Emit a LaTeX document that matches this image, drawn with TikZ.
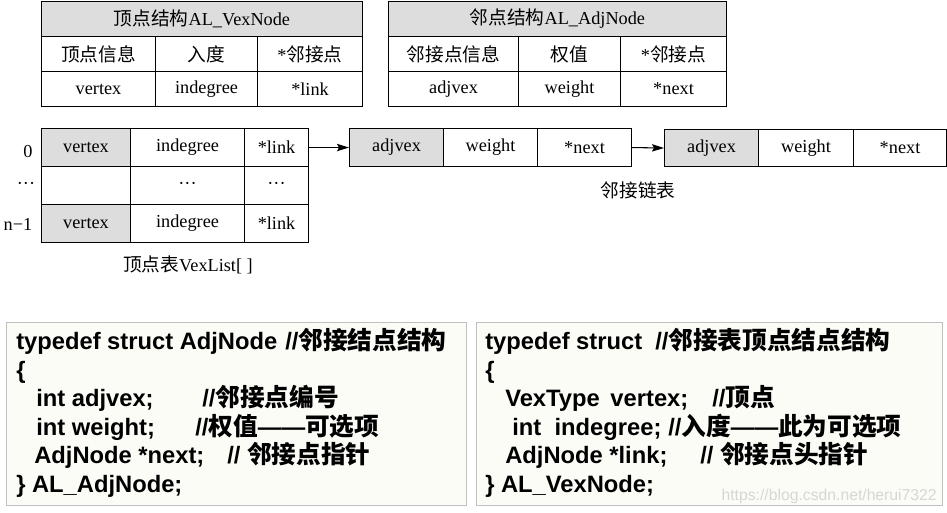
\documentclass[tikz,border=0pt]{standalone}
\usepackage{fontspec}
\usetikzlibrary{arrows.meta}
\setmainfont{Liberation Serif}
\newfontfamily\cjk{Noto Sans CJK SC}
\newfontfamily\codefont{Liberation Sans}
\definecolor{cellgray}{RGB}{221,221,221}
\definecolor{codebg}{RGB}{252,252,247}
\definecolor{codeframe}{RGB}{192,192,192}
\definecolor{wmgray}{RGB}{214,214,214}
\newcommand\tabfont{\fontsize{13.7pt}{16pt}\selectfont}
\newcommand\codefnt{\codefont\bfseries\fontsize{17.8pt}{21pt}\selectfont}
\newcommand\zh[1]{{\cjk\fontsize{14pt}{16pt}\selectfont #1}}
\newcommand\zhb[1]{{\cjk\bfseries\fontsize{18.5pt}{21pt}\selectfont #1}}
\begin{document}
\begin{tikzpicture}[x=0.75pt,y=-0.75pt,
  cell/.style={draw, line width=0.8pt, inner sep=0pt, anchor=north west, font=\tabfont},
  shade/.style={fill=cellgray},
  lbl/.style={inner sep=0pt, font=\tabfont},
  code/.style={inner sep=0pt, anchor=base west, font=\codefnt},
  arr/.style={-{Stealth[length=9pt,width=5.5pt,inset=1.5pt]}, line width=0.8pt},
  codebox/.style={draw=codeframe, fill=codebg, line width=0.9pt, inner sep=0pt, anchor=north west}]
\useasboundingbox (0,0) rectangle (947,512);

% ---- vertex node layout ----
\node[cell, shade, minimum width=240.75pt, minimum height=26.25pt] (vh) at (41,1) {\zh{顶点结构}AL\_VexNode};
\node[cell, minimum width=85.5pt, minimum height=26.25pt] (vh1) at (41,36) {\zh{顶点信息}};
\node[cell, minimum width=76.5pt, minimum height=26.25pt] (vh2) at (155,36) {\zh{入度}};
\node[cell, minimum width=78.75pt, minimum height=26.25pt] (vh3) at (257,36) {*\zh{邻接点}};
\node[cell, minimum width=85.5pt, minimum height=26.25pt] (vf1) at (41,71) {vertex};
\node[cell, minimum width=76.5pt, minimum height=26.25pt] (vf2) at (155,71) {indegree};
\node[cell, minimum width=78.75pt, minimum height=26.25pt] (vf3) at (257,71) {*link};

% ---- adjacency node layout ----
\node[cell, shade, minimum width=253.5pt, minimum height=26.25pt] (ah) at (388,1) {\zh{邻点结构}AL\_AdjNode};
\node[cell, minimum width=97.5pt, minimum height=26.25pt] (ah1) at (388,36) {\zh{邻接点信息}};
\node[cell, minimum width=76.5pt, minimum height=26.25pt] (ah2) at (518,36) {\zh{权值}};
\node[cell, minimum width=79.5pt, minimum height=26.25pt] (ah3) at (620,36) {*\zh{邻接点}};
\node[cell, minimum width=97.5pt, minimum height=26.25pt] (af1) at (388,71) {adjvex};
\node[cell, minimum width=76.5pt, minimum height=26.25pt] (af2) at (518,71) {weight};
\node[cell, minimum width=79.5pt, minimum height=26.25pt] (af3) at (620,71) {*next};

% ---- vertex list ----
\node[cell, shade, minimum width=66.75pt, minimum height=28.5pt] (v0a) at (41,128) {vertex};
\node[cell, minimum width=85.5pt, minimum height=28.5pt] (v0b) at (130,128) {indegree};
\node[cell, minimum width=48pt, minimum height=28.5pt] (v0c) at (244,128) {*link};
\node[cell, minimum width=66.75pt, minimum height=28.5pt] (v1a) at (41,166) {};
\node[cell, minimum width=85.5pt, minimum height=28.5pt] (v1b) at (130,166) {···};
\node[cell, minimum width=48pt, minimum height=28.5pt] (v1c) at (244,166) {···};
\node[cell, shade, minimum width=66.75pt, minimum height=28.5pt] (v2a) at (41,204) {vertex};
\node[cell, minimum width=85.5pt, minimum height=28.5pt] (v2b) at (130,204) {indegree};
\node[cell, minimum width=48pt, minimum height=28.5pt] (v2c) at (244,204) {*link};
\node[lbl] (i0) at (28,152) {0};
\node[lbl] (i1) at (26,186) {···};
\node[lbl] (i2) at (18,224) {n−1};
\node[lbl] (vcap) at (188,265) {\zh{顶点表}VexList[ ]};

% ---- adjacency chain ----
\node[cell, shade, minimum width=70.5pt, minimum height=28.5pt] (a1a) at (349,128) {adjvex};
\node[cell, minimum width=70.5pt, minimum height=28.5pt] (a1b) at (443,128) {weight};
\node[cell, minimum width=70.5pt, minimum height=28.5pt] (a1c) at (537,128) {*next};
\node[cell, shade, minimum width=70.5pt, minimum height=27.75pt] (a2a) at (664,129) {adjvex};
\node[cell, minimum width=71.25pt, minimum height=27.75pt] (a2b) at (758,129) {\raisebox{-2.5pt}{weight}};
\node[cell, minimum width=69.75pt, minimum height=27.75pt] (a2c) at (853,129) {*next};
\node[lbl] (acap) at (638,190) {\zh{邻接链表}};
\draw[arr] (v0c.east) -- (a1a.west);
\draw[arr] (a1c.east) -- (a2a.west);

% ---- code boxes ----
\node[codebox, minimum width=345pt, minimum height=137.25pt] (lbox) at (6,322) {};
\node[codebox, minimum width=349.5pt, minimum height=137.25pt] (rbox) at (476,322) {};

\node[code] (l1) at (16,349) {typedef struct AdjNode};
\node[code] (l1c) at (285,349) {//\zhb{邻接结点结构}};
\node[code] (l2) at (16,378) {\{};
\node[code] (l3) at (36,406) {int adjvex;};
\node[code] (l3c) at (202,406) {//\zhb{邻接点编号}};
\node[code] (l4) at (36,435) {int weight;};
\node[code] (l4c) at (195,435) {//\zhb{权值}——\zhb{可选项}};
\node[code] (l5) at (34,463) {AdjNode *next;};
\node[code] (l5c) at (227,463) {// \zhb{邻接点指针}};
\node[code] (l6) at (16,492) {\} AL\_AdjNode;};

\node[code] (r1) at (485,349) {typedef struct};
\node[code] (r1c) at (655,349) {//\zhb{邻接表顶点结点结构}};
\node[code] (r2) at (485,378) {\{};
\node[code] (r3) at (505,406) {VexType\hspace{8pt}vertex;};
\node[code] (r3c) at (712,406) {//\zhb{顶点}};
\node[code] (r4) at (512,435) {int\hspace{10pt}indegree;};
\node[code] (r4c) at (668,435) {//\zhb{入度}——\zhb{此为可选项}};
\node[code] (r5) at (505,463) {AdjNode *link;};
\node[code] (r5c) at (700,463) {// \zhb{邻接点头指针}};
\node[code] (r6) at (485,492) {\} AL\_VexNode;};

\node[inner sep=0pt, anchor=base east, font=\codefont\fontsize{11.8pt}{14pt}\selectfont, text=wmgray] (wm) at (937,500) {https://blog.csdn.net/herui7322};
\end{tikzpicture}
\end{document}
